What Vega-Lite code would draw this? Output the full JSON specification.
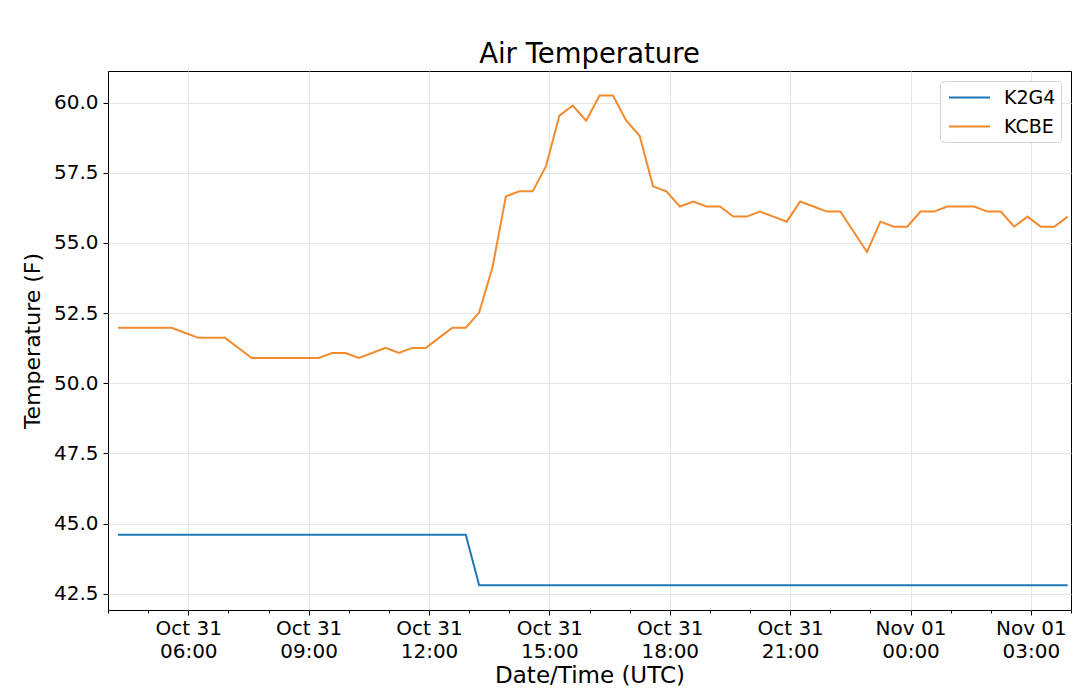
{
  "$schema": "https://vega.github.io/schema/vega-lite/v6.json",
  "autosize": {"type": "none"},
  "padding": {"left": 108, "top": 71, "right": 9, "bottom": 82},
  "width": 963,
  "height": 539,
  "background": "white",
  "config": {
    "font": "DejaVu Sans",
    "view": {"stroke": "black", "strokeWidth": 1},
    "axis": {
      "labelColor": "black",
      "titleColor": "black",
      "titleFontWeight": "normal",
      "tickColor": "black",
      "gridColor": "#e6e6e6",
      "domain": false
    }
  },
  "title": {
    "text": "Air Temperature",
    "fontSize": 27.5,
    "fontWeight": "normal",
    "color": "black",
    "anchor": "middle",
    "offset": 3
  },
  "data": {
    "values": [
      {"time": "2019-10-31T04:15:00Z", "K2G4": 44.6, "KCBE": 51.98},
      {"time": "2019-10-31T04:35:00Z", "K2G4": 44.6, "KCBE": 51.98},
      {"time": "2019-10-31T04:55:00Z", "K2G4": 44.6, "KCBE": 51.98},
      {"time": "2019-10-31T05:15:00Z", "K2G4": 44.6, "KCBE": 51.98},
      {"time": "2019-10-31T05:35:00Z", "K2G4": 44.6, "KCBE": 51.98},
      {"time": "2019-10-31T05:55:00Z", "K2G4": 44.6, "KCBE": 51.8},
      {"time": "2019-10-31T06:15:00Z", "K2G4": 44.6, "KCBE": 51.62},
      {"time": "2019-10-31T06:35:00Z", "K2G4": 44.6, "KCBE": 51.62},
      {"time": "2019-10-31T06:55:00Z", "K2G4": 44.6, "KCBE": 51.62},
      {"time": "2019-10-31T07:15:00Z", "K2G4": 44.6, "KCBE": 51.26},
      {"time": "2019-10-31T07:35:00Z", "K2G4": 44.6, "KCBE": 50.9},
      {"time": "2019-10-31T07:55:00Z", "K2G4": 44.6, "KCBE": 50.9},
      {"time": "2019-10-31T08:15:00Z", "K2G4": 44.6, "KCBE": 50.9},
      {"time": "2019-10-31T08:35:00Z", "K2G4": 44.6, "KCBE": 50.9},
      {"time": "2019-10-31T08:55:00Z", "K2G4": 44.6, "KCBE": 50.9},
      {"time": "2019-10-31T09:15:00Z", "K2G4": 44.6, "KCBE": 50.9},
      {"time": "2019-10-31T09:35:00Z", "K2G4": 44.6, "KCBE": 51.08},
      {"time": "2019-10-31T09:55:00Z", "K2G4": 44.6, "KCBE": 51.08},
      {"time": "2019-10-31T10:15:00Z", "K2G4": 44.6, "KCBE": 50.9},
      {"time": "2019-10-31T10:35:00Z", "K2G4": 44.6, "KCBE": 51.08},
      {"time": "2019-10-31T10:55:00Z", "K2G4": 44.6, "KCBE": 51.26},
      {"time": "2019-10-31T11:15:00Z", "K2G4": 44.6, "KCBE": 51.08},
      {"time": "2019-10-31T11:35:00Z", "K2G4": 44.6, "KCBE": 51.26},
      {"time": "2019-10-31T11:55:00Z", "K2G4": 44.6, "KCBE": 51.26},
      {"time": "2019-10-31T12:15:00Z", "K2G4": 44.6, "KCBE": 51.62},
      {"time": "2019-10-31T12:35:00Z", "K2G4": 44.6, "KCBE": 51.98},
      {"time": "2019-10-31T12:55:00Z", "K2G4": 44.6, "KCBE": 51.98},
      {"time": "2019-10-31T13:15:00Z", "K2G4": 42.8, "KCBE": 52.52},
      {"time": "2019-10-31T13:35:00Z", "K2G4": 42.8, "KCBE": 54.14},
      {"time": "2019-10-31T13:55:00Z", "K2G4": 42.8, "KCBE": 56.66},
      {"time": "2019-10-31T14:15:00Z", "K2G4": 42.8, "KCBE": 56.84},
      {"time": "2019-10-31T14:35:00Z", "K2G4": 42.8, "KCBE": 56.84},
      {"time": "2019-10-31T14:55:00Z", "K2G4": 42.8, "KCBE": 57.74},
      {"time": "2019-10-31T15:15:00Z", "K2G4": 42.8, "KCBE": 59.54},
      {"time": "2019-10-31T15:35:00Z", "K2G4": 42.8, "KCBE": 59.9},
      {"time": "2019-10-31T15:55:00Z", "K2G4": 42.8, "KCBE": 59.36},
      {"time": "2019-10-31T16:15:00Z", "K2G4": 42.8, "KCBE": 60.26},
      {"time": "2019-10-31T16:35:00Z", "K2G4": 42.8, "KCBE": 60.26},
      {"time": "2019-10-31T16:55:00Z", "K2G4": 42.8, "KCBE": 59.36},
      {"time": "2019-10-31T17:15:00Z", "K2G4": 42.8, "KCBE": 58.82},
      {"time": "2019-10-31T17:35:00Z", "K2G4": 42.8, "KCBE": 57.02},
      {"time": "2019-10-31T17:55:00Z", "K2G4": 42.8, "KCBE": 56.84},
      {"time": "2019-10-31T18:15:00Z", "K2G4": 42.8, "KCBE": 56.3},
      {"time": "2019-10-31T18:35:00Z", "K2G4": 42.8, "KCBE": 56.48},
      {"time": "2019-10-31T18:55:00Z", "K2G4": 42.8, "KCBE": 56.3},
      {"time": "2019-10-31T19:15:00Z", "K2G4": 42.8, "KCBE": 56.3},
      {"time": "2019-10-31T19:35:00Z", "K2G4": 42.8, "KCBE": 55.94},
      {"time": "2019-10-31T19:55:00Z", "K2G4": 42.8, "KCBE": 55.94},
      {"time": "2019-10-31T20:15:00Z", "K2G4": 42.8, "KCBE": 56.12},
      {"time": "2019-10-31T20:35:00Z", "K2G4": 42.8, "KCBE": 55.94},
      {"time": "2019-10-31T20:55:00Z", "K2G4": 42.8, "KCBE": 55.76},
      {"time": "2019-10-31T21:15:00Z", "K2G4": 42.8, "KCBE": 56.48},
      {"time": "2019-10-31T21:35:00Z", "K2G4": 42.8, "KCBE": 56.3},
      {"time": "2019-10-31T21:55:00Z", "K2G4": 42.8, "KCBE": 56.12},
      {"time": "2019-10-31T22:15:00Z", "K2G4": 42.8, "KCBE": 56.12},
      {"time": "2019-10-31T22:35:00Z", "K2G4": 42.8, "KCBE": 55.4},
      {"time": "2019-10-31T22:55:00Z", "K2G4": 42.8, "KCBE": 54.68},
      {"time": "2019-10-31T23:15:00Z", "K2G4": 42.8, "KCBE": 55.76},
      {"time": "2019-10-31T23:35:00Z", "K2G4": 42.8, "KCBE": 55.58},
      {"time": "2019-10-31T23:55:00Z", "K2G4": 42.8, "KCBE": 55.58},
      {"time": "2019-11-01T00:15:00Z", "K2G4": 42.8, "KCBE": 56.12},
      {"time": "2019-11-01T00:35:00Z", "K2G4": 42.8, "KCBE": 56.12},
      {"time": "2019-11-01T00:55:00Z", "K2G4": 42.8, "KCBE": 56.3},
      {"time": "2019-11-01T01:15:00Z", "K2G4": 42.8, "KCBE": 56.3},
      {"time": "2019-11-01T01:35:00Z", "K2G4": 42.8, "KCBE": 56.3},
      {"time": "2019-11-01T01:55:00Z", "K2G4": 42.8, "KCBE": 56.12},
      {"time": "2019-11-01T02:15:00Z", "K2G4": 42.8, "KCBE": 56.12},
      {"time": "2019-11-01T02:35:00Z", "K2G4": 42.8, "KCBE": 55.58},
      {"time": "2019-11-01T02:55:00Z", "K2G4": 42.8, "KCBE": 55.94},
      {"time": "2019-11-01T03:15:00Z", "K2G4": 42.8, "KCBE": 55.58},
      {"time": "2019-11-01T03:35:00Z", "K2G4": 42.8, "KCBE": 55.58},
      {"time": "2019-11-01T03:55:00Z", "K2G4": 42.8, "KCBE": 55.94}
    ]
  },
  "transform": [{"fold": ["K2G4", "KCBE"], "as": ["station", "temp"]}],
  "layer": [
    {
      "mark": {"type": "line", "strokeWidth": 2},
      "encoding": {
        "x": {
          "field": "time",
          "type": "temporal",
          "scale": {
            "type": "utc",
            "domain": [
              {"year": 2019, "month": 10, "date": 31, "hours": 4, "utc": true},
              {"year": 2019, "month": 11, "date": 1, "hours": 4, "utc": true}
            ]
          },
          "axis": {
            "orient": "bottom",
            "title": "Date/Time (UTC)",
            "titleFontSize": 23,
            "titlePadding": 3,
            "values": [
              {"year": 2019, "month": 10, "date": 31, "hours": 6, "utc": true},
              {"year": 2019, "month": 10, "date": 31, "hours": 9, "utc": true},
              {"year": 2019, "month": 10, "date": 31, "hours": 12, "utc": true},
              {"year": 2019, "month": 10, "date": 31, "hours": 15, "utc": true},
              {"year": 2019, "month": 10, "date": 31, "hours": 18, "utc": true},
              {"year": 2019, "month": 10, "date": 31, "hours": 21, "utc": true},
              {"year": 2019, "month": 11, "date": 1, "hours": 0, "utc": true},
              {"year": 2019, "month": 11, "date": 1, "hours": 3, "utc": true}
            ],
            "labelExpr": "[utcFormat(datum.value, '%b %d'), utcFormat(datum.value, '%H:%M')]",
            "labelFontSize": 20,
            "labelLineHeight": 23,
            "labelPadding": 3,
            "tickSize": 5,
            "grid": true
          }
        },
        "y": {
          "field": "temp",
          "type": "quantitative",
          "scale": {"domain": [41.92, 61.13], "zero": false, "nice": false},
          "axis": {
            "title": "Temperature (F)",
            "titleFontSize": 22,
            "titlePadding": 9,
            "values": [42.5, 45, 47.5, 50, 52.5, 55, 57.5, 60],
            "format": ".1f",
            "labelFontSize": 20,
            "labelPadding": 5,
            "tickSize": 5,
            "grid": true
          }
        },
        "color": {
          "field": "station",
          "type": "nominal",
          "scale": {"domain": ["K2G4", "KCBE"], "range": ["#1f77b4", "#f28a2e"]},
          "legend": {
            "title": null,
            "orient": "top-right",
            "offset": 10,
            "symbolType": "M-2,0H2",
            "symbolSize": 420,
            "symbolStrokeWidth": 2,
            "symbolOffset": 13,
            "labelFontSize": 19,
            "labelColor": "black",
            "labelOffset": 23,
            "labelExpr": "datum.label + ' '",
            "padding": 5,
            "rowPadding": 7,
            "strokeColor": "#d5d5d5",
            "cornerRadius": 4,
            "fillColor": "white"
          }
        }
      }
    },
    {
      "mark": {"type": "rule", "opacity": 0},
      "encoding": {
        "x": {
          "field": "time",
          "type": "temporal",
          "axis": {
            "orient": "bottom",
            "title": null,
            "labels": false,
            "grid": false,
            "tickSize": 3,
            "values": [
              {"year": 2019, "month": 10, "date": 31, "hours": 4, "utc": true},
              {"year": 2019, "month": 10, "date": 31, "hours": 5, "utc": true},
              {"year": 2019, "month": 10, "date": 31, "hours": 7, "utc": true},
              {"year": 2019, "month": 10, "date": 31, "hours": 8, "utc": true},
              {"year": 2019, "month": 10, "date": 31, "hours": 10, "utc": true},
              {"year": 2019, "month": 10, "date": 31, "hours": 11, "utc": true},
              {"year": 2019, "month": 10, "date": 31, "hours": 13, "utc": true},
              {"year": 2019, "month": 10, "date": 31, "hours": 14, "utc": true},
              {"year": 2019, "month": 10, "date": 31, "hours": 16, "utc": true},
              {"year": 2019, "month": 10, "date": 31, "hours": 17, "utc": true},
              {"year": 2019, "month": 10, "date": 31, "hours": 19, "utc": true},
              {"year": 2019, "month": 10, "date": 31, "hours": 20, "utc": true},
              {"year": 2019, "month": 10, "date": 31, "hours": 22, "utc": true},
              {"year": 2019, "month": 10, "date": 31, "hours": 23, "utc": true},
              {"year": 2019, "month": 11, "date": 1, "hours": 1, "utc": true},
              {"year": 2019, "month": 11, "date": 1, "hours": 2, "utc": true},
              {"year": 2019, "month": 11, "date": 1, "hours": 4, "utc": true}
            ]
          }
        }
      }
    }
  ],
  "resolve": {"axis": {"x": "independent"}}
}
